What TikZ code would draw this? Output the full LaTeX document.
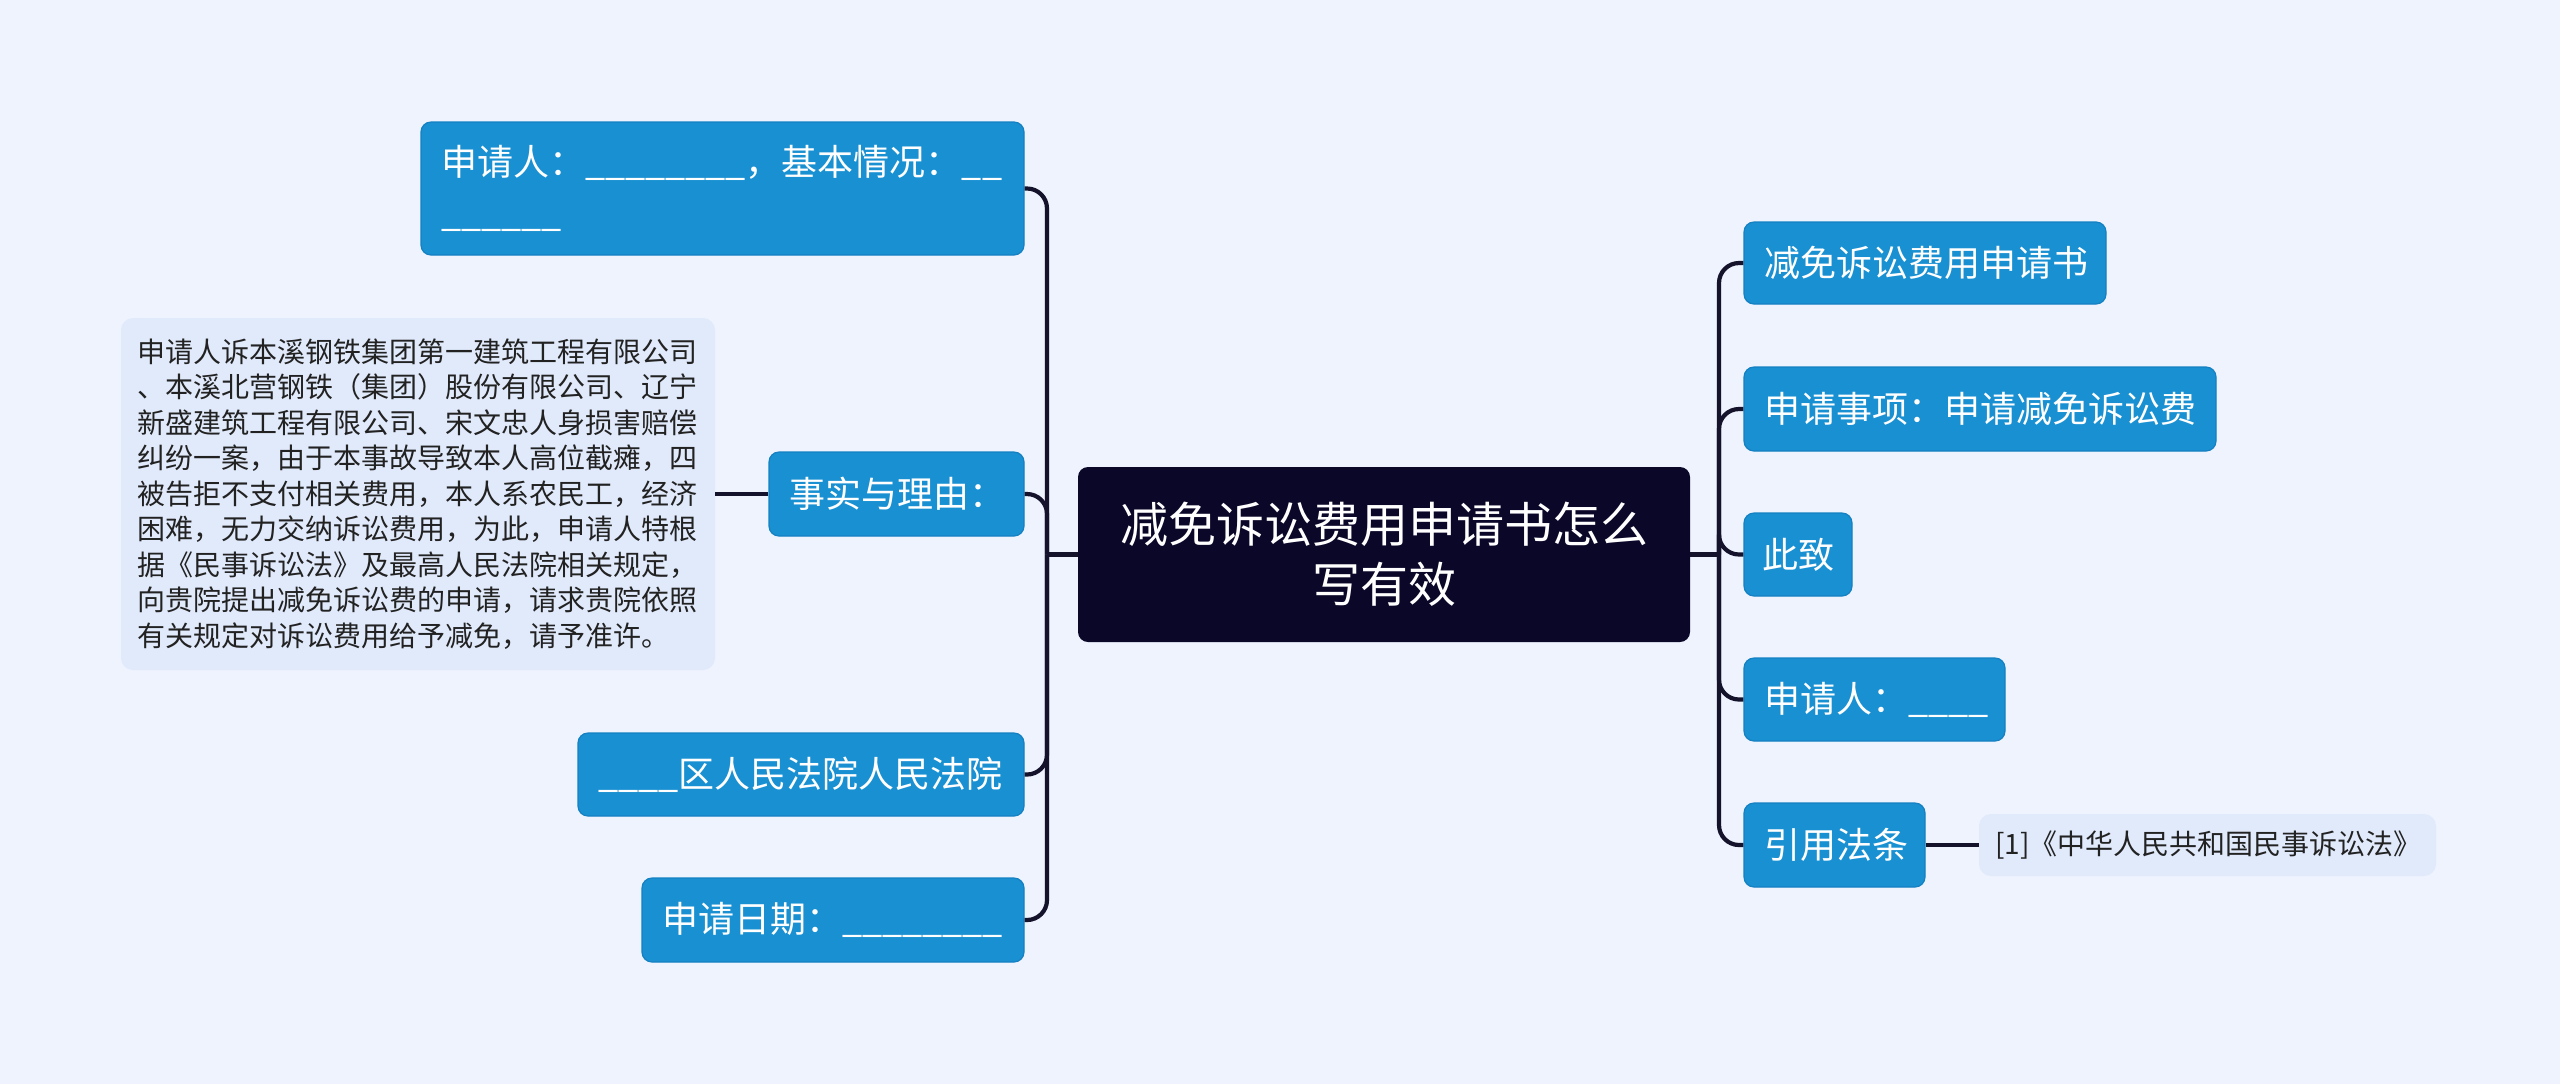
\documentclass[tikz,border=0pt]{standalone}
\usepackage{fontspec}
\setmainfont{Noto Sans CJK SC}
\definecolor{bgc}{HTML}{EEF3FE}
\definecolor{bluec}{HTML}{1890D2}
\definecolor{blueb}{HTML}{1580C2}
\definecolor{rootc}{HTML}{0B0728}
\definecolor{lightc}{HTML}{E1EAFB}
\definecolor{linec}{HTML}{14132B}
\definecolor{textc}{HTML}{222222}
\tikzset{
  bluebox/.style={fill=bluec, draw=blueb, line width=0.6pt, rounded corners=5pt, text=white,
    font=\fontsize{18}{25.5}\selectfont, inner xsep=10pt, inner ysep=0pt, align=left, anchor=center},
  rootbox/.style={fill=rootc, rounded corners=5pt, text=white,
    font=\fontsize{24}{30}\selectfont, inner sep=0pt, align=center, anchor=center},
  lightbox/.style={fill=lightc, rounded corners=6pt, text=textc,
    font=\fontsize{14}{17.75}\selectfont, inner xsep=8pt, inner ysep=0pt, align=left, anchor=center},
  conn/.style={draw=linec, line width=2.1pt},
}
\begin{document}
\begin{tikzpicture}[x=0.5pt,y=-0.5pt]
\fill[bgc] (0,0) rectangle (2560,1084);
\useasboundingbox (0,0) rectangle (2560,1084);

% root
\node[rootbox, minimum width=306pt, minimum height=87.5pt] (root) at (1384,554.5)
  {减免诉讼费用申请书怎么\\写有效};

% left side
\node[bluebox, text width=281.5pt, minimum height=66.5pt] (L1) at (722.5,188.5)
  {申请人：\_\_\_\_\_\_\_\_，基本情况：\_\_\\\_\_\_\_\_\_};
\node[bluebox, text width=107.5pt, minimum height=42pt] (L2) at (896.5,494)
  {事实与理由：};
\node[lightbox, text width=281pt, minimum height=176pt] (T2) at (418,494)
  {申请人诉本溪钢铁集团第一建筑工程有限公司\\
   、本溪北营钢铁（集团）股份有限公司、辽宁\\
   新盛建筑工程有限公司、宋文忠人身损害赔偿\\
   纠纷一案，由于本事故导致本人高位截瘫，四\\
   被告拒不支付相关费用，本人系农民工，经济\\
   困难，无力交纳诉讼费用，为此，申请人特根\\
   据《民事诉讼法》及最高人民法院相关规定，\\
   向贵院提出减免诉讼费的申请，请求贵院依照\\
   有关规定对诉讼费用给予减免，请予准许。};
\node[bluebox, text width=203pt, minimum height=41.5pt] (L3) at (801,774.5)
  {\_\_\_\_区人民法院人民法院};
\node[bluebox, text width=171pt, minimum height=42pt] (L4) at (833,920)
  {申请日期：\_\_\_\_\_\_\_\_};

% right side
\node[bluebox, text width=161pt, minimum height=41pt] (R1) at (1925,263)
  {减免诉讼费用申请书};
\node[bluebox, text width=216pt, minimum height=42pt] (R2) at (1980,409)
  {申请事项：申请减免诉讼费};
\node[bluebox, text width=36pt, inner xsep=9pt, minimum height=41.5pt] (R3) at (1798,554.5)
  {此致};
\node[bluebox, text width=110.5pt, minimum height=41.5pt] (R4) at (1874.5,699.5)
  {申请人：\_\_\_\_};
\node[bluebox, text width=70.5pt, minimum height=42pt] (R5) at (1834.5,845)
  {引用法条};
\node[lightbox, text width=212.5pt, inner xsep=8pt, minimum height=31pt] (R6) at (2207.5,845)
  {[1]《中华人民共和国民事诉讼法》};

% connectors
\coordinate (lt) at (1047,554.5);
\coordinate (rt) at (1719,554.5);
\draw[conn] (root.west) -- (lt);
\draw[conn] (root.east) -- (rt);
\foreach \n in {L1,L2,L3,L4}{
  \draw[conn, rounded corners=10pt] (lt) |- (\n.east);
}
\foreach \n in {R1,R2,R3,R4,R5}{
  \draw[conn, rounded corners=10pt] (rt) |- (\n.west);
}
\draw[conn] (L2.west) -- (T2.east);
\draw[conn] (R5.east) -- (R6.west);
\end{tikzpicture}
\end{document}
